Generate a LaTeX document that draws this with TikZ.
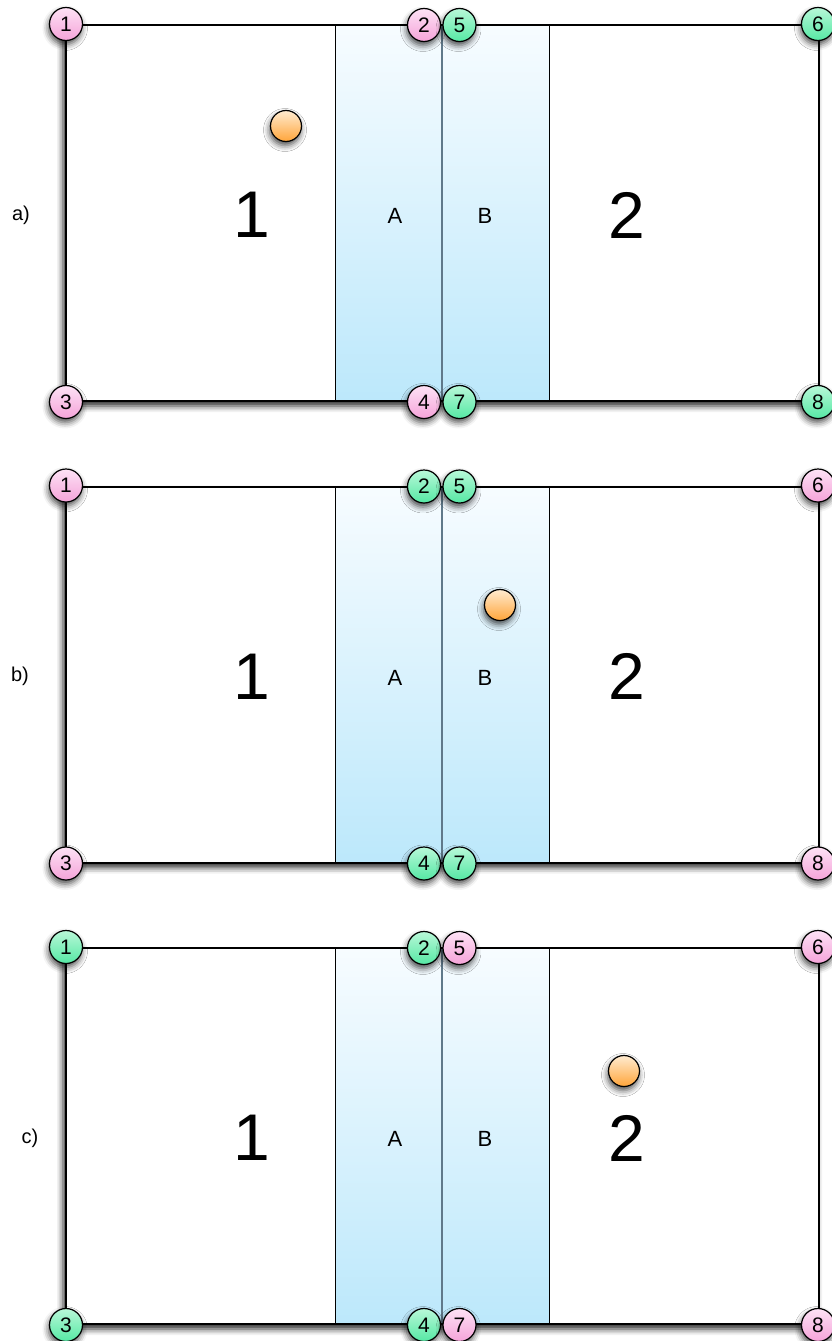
\documentclass[tikz,border=0pt]{standalone}
\usepackage{fontspec}
\setmainfont{Liberation Sans}
\usetikzlibrary{shadows.blur}
\definecolor{pinkT}{HTML}{FDE2F5}
\definecolor{pinkB}{HTML}{F5A3D9}
\definecolor{greenT}{HTML}{B8F8D8}
\definecolor{greenB}{HTML}{55E8A4}
\definecolor{orangeT}{HTML}{FFEBD0}
\definecolor{orangeB}{HTML}{FFA53A}
\definecolor{colT}{HTML}{F7FCFF}
\definecolor{colB}{HTML}{BCE8FB}
\definecolor{midline}{HTML}{60798A}
\tikzset{
  shad/.style={blur shadow={shadow xshift=-1pt, shadow yshift=-4pt, shadow blur radius=6pt, shadow opacity=70}},
  frameshad/.style={blur shadow={shadow xshift=-3pt, shadow yshift=-5pt, shadow blur radius=6pt, shadow opacity=85}},
  pin/.style={circle, draw=black, line width=1.2pt, minimum size=33pt, inner sep=0pt, font=\fontsize{21}{21}\selectfont, shad},
  pk/.style={pin, top color=pinkT, bottom color=pinkB},
  gr/.style={pin, top color=greenT, bottom color=greenB},
  ball/.style={circle, draw=black, line width=1.2pt, minimum size=31pt, inner sep=0pt, top color=orangeT, bottom color=orangeB, shad},
  big/.style={font=\fontsize{66}{66}\selectfont, inner sep=0pt},
  mid/.style={font=\fontsize{22}{22}\selectfont, inner sep=0pt},
  lab/.style={font=\fontsize{20}{20}\selectfont, inner sep=0pt},
  framebox/.style={draw=black, line width=2pt},
}
\begin{document}
\begin{tikzpicture}[x=1pt,y=-1pt]
\useasboundingbox (0,0) rectangle (832,1341);
\foreach \p/\dy/\lb/\lx/\sa/\sb/\sc/\sd/\bx/\by in {
  a/0/a)/21/pk/pk/gr/gr/286/126,
  b/461.5/b)/20/pk/gr/gr/pk/500/605,
  c/923/c)/30/gr/gr/pk/pk/624/1071}{
  % frame with shadow
  \path[fill=white, frameshad] (66,{25+\dy}) rectangle (819,{401+\dy});
  % shaded column
  \shade[top color=colT, bottom color=colB] (335,{25+\dy}) rectangle (549,{401+\dy});
  \draw[line width=0.9pt] (335,{25+\dy}) -- (335,{401+\dy});
  \draw[line width=0.9pt] (549,{25+\dy}) -- (549,{401+\dy});
  \draw[midline, line width=1.2pt] (442,{25+\dy}) -- (442,{401+\dy});
  \draw[framebox] (66,{25+\dy}) rectangle (819,{401+\dy});
  % texts
  \node[lab] (lab\p) at (\lx,{215+\dy}) {\lb};
  \node[big] (one\p) at (252,{215+\dy}) {1};
  \node[big] (two\p) at (627,{215+\dy}) {2};
  \node[mid] (A\p) at (395,{216+\dy}) {A};
  \node[mid] (B\p) at (485,{216+\dy}) {B};
  % corner markers
  \node[\sa] (n1\p) at (66,{24+\dy}) {1};
  \node[\sb] (n2\p) at (424,{25+\dy}) {2};
  \node[\sc] (n5\p) at (459.5,{25+\dy}) {5};
  \node[\sd] (n6\p) at (818,{24+\dy}) {6};
  \node[\sa] (n3\p) at (66,{402+\dy}) {3};
  \node[\sb] (n4\p) at (424,{402+\dy}) {4};
  \node[\sc] (n7\p) at (459.5,{402+\dy}) {7};
  \node[\sd] (n8\p) at (818,{402+\dy}) {8};
  % ball
  \node[ball] (ball\p) at (\bx,\by) {};
}
\end{tikzpicture}
\end{document}
